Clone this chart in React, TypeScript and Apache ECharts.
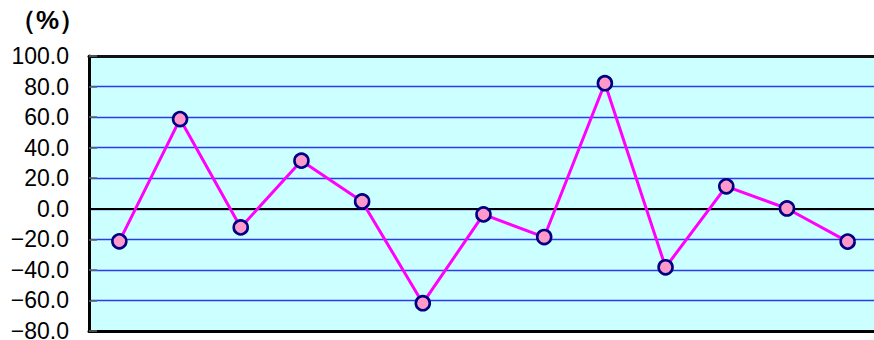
import React, { useEffect, useRef } from "react";
import * as echarts from "echarts";

const categories = ["1", "2", "3", "4", "5", "6", "7", "8", "9", "10", "11", "12", "13"];
const values = [-21.3, 58.7, -12.2, 31.5, 4.8, -61.8, -3.7, -18.5, 82.2, -38.3, 14.7, 0.2, -21.5];
const yMin = -80;
const yMax = 100;
const yInterval = 20;
const unitLabel = "（%）";

export default function App() {
  const ref = useRef<HTMLDivElement>(null);
  useEffect(() => {
    document.body.style.margin = "0";
    if (!ref.current) return;
    const chart = echarts.init(ref.current, null, { renderer: "svg" });
    const axisBase = {
      type: "category",
      data: categories,
      boundaryGap: true,
      axisLabel: { show: false },
      axisTick: { show: false },
      splitLine: { show: false },
    };
    chart.setOption({
      animation: false,
      backgroundColor: "#ffffff",
      graphic: [
        {
          type: "text",
          x: 10,
          y: 7,
          style: {
            text: unitLabel,
            font: "bold 26px sans-serif",
            fill: "#000000",
          },
        },
      ],
      grid: {
        left: 89,
        top: 56,
        width: 789,
        height: 275,
        show: true,
        backgroundColor: "#CCFFFF",
        borderWidth: 0,
        outerBoundsMode: "none",
        containLabel: false,
      },
      xAxis: [
        {
          ...axisBase,
          position: "bottom",
          axisLine: { show: true, onZero: false, lineStyle: { color: "#000000", width: 3 } },
        },
        {
          ...axisBase,
          position: "top",
          axisLine: { show: true, onZero: false, lineStyle: { color: "#111111", width: 3 } },
        },
      ],
      yAxis: {
        type: "value",
        min: yMin,
        max: yMax,
        interval: yInterval,
        axisLine: { show: true, lineStyle: { color: "#000000", width: 3 } },
        axisTick: { show: true, inside: true, length: 8, lineStyle: { color: "#666666", width: 1.5 } },
        axisLabel: {
          formatter: (v: number) => (v < 0 ? "\u2212" + Math.abs(v).toFixed(1) : v.toFixed(1)),
          color: "#000000",
          fontSize: 23,
          fontFamily: "Liberation Sans",
          margin: 20,
        },
        splitLine: { show: true, lineStyle: { color: "#2a3cf0", width: 1.3 } },
      },
      series: [
        {
          type: "line",
          data: values,
          symbol: "circle",
          symbolSize: 14,
          lineStyle: { color: "#FF00FF", width: 3 },
          itemStyle: { color: "#FF99CC", borderColor: "#000080", borderWidth: 2.6 },
          z: 3,
          markLine: {
            silent: true,
            symbol: "none",
            label: { show: false },
            lineStyle: { color: "#000000", width: 2.2, type: "solid" },
            data: [{ yAxis: 0 }],
            z: 2,
          },
        },
      ],
    });
    return () => chart.dispose();
  }, []);
  return <div ref={ref} style={{ width: 874, height: 340 }} />;
}
